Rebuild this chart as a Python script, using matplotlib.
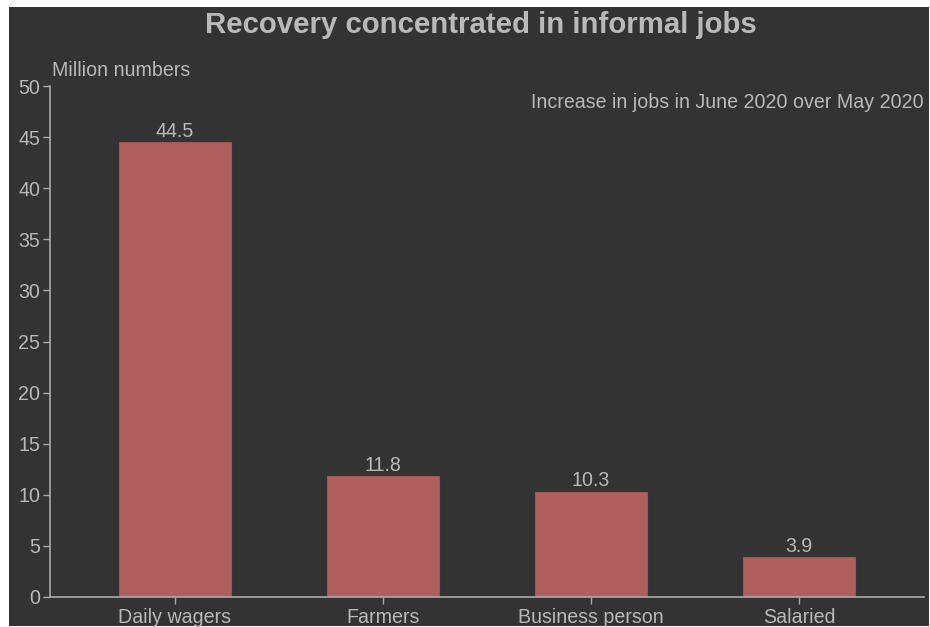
import matplotlib
matplotlib.use("Agg")
import matplotlib.pyplot as plt
from matplotlib.patches import Rectangle

plt.rcParams['font.family'] = ['Liberation Sans', 'DejaVu Sans']

categories = ["Daily wagers", "Farmers", "Business person", "Salaried"]
increase = [44.5, 11.8, 10.3, 3.9]
yticks = [0, 5, 10, 15, 20, 25, 30, 35, 40, 45, 50]

bg = "#333333"
fg = "#b9b9b9"
bar_color = "#b05f5f"
fs = 14.1

fig = plt.figure(figsize=(9.3, 6.27), dpi=100, facecolor="white")
# dark panel behind the chart
fig.patches.append(Rectangle((9 / 930, 1 / 627), 920 / 930, 619 / 627,
                             transform=fig.transFigure, facecolor=bg,
                             edgecolor="none", zorder=-1))

ax = fig.add_axes([50 / 930, 30 / 627, 874 / 930, 511 / 627])
ax.set_facecolor("none")
ax.set_zorder(2)

x = list(range(len(categories)))
ax.bar(x, increase, width=0.538, color=bar_color, edgecolor="#a05555",
       linewidth=0.8, zorder=2)
for xi, v in zip(x, increase):
    ax.annotate(f"{v}", (xi, v), xytext=(0, 1), textcoords="offset points",
                ha="center", va="bottom", color=fg, fontsize=fs)

ax.set_xlim(-0.6, 3.6)
ax.set_ylim(0, 50)
ax.set_xticks(x)
ax.set_xticklabels(categories)
ax.set_yticks(yticks)

for side in ["top", "right"]:
    ax.spines[side].set_visible(False)
for side in ["left", "bottom"]:
    ax.spines[side].set_color("#aaaaaa")
    ax.spines[side].set_linewidth(1.2)

ax.tick_params(axis="both", colors="#aaaaaa", labelcolor=fg, labelsize=fs,
               length=5, width=1)
ax.tick_params(axis="x", pad=3)
ax.tick_params(axis="y", pad=2)

fig.text(52 / 930, 1 - 70 / 627, "Million numbers",
         ha="left", va="center", color=fg, fontsize=fs, zorder=3)
fig.text(924 / 930, 1 - 102 / 627, "Increase in jobs in June 2020 over May 2020",
         ha="right", va="center", color=fg, fontsize=fs, zorder=3)
fig.text(481 / 930, 1 - 25 / 627, "Recovery concentrated in informal jobs",
         ha="center", va="center", color=fg, fontsize=21.2, fontweight="bold",
         zorder=3)

fig.savefig("out.png", dpi=100, facecolor="white")
